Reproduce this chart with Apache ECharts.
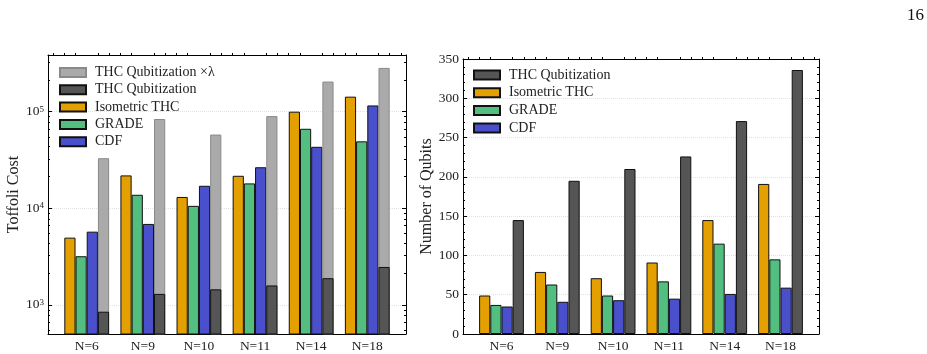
<!DOCTYPE html>
<html>
<head>
<meta charset="utf-8">
<script src="https://cdn.jsdelivr.net/npm/echarts@6/dist/echarts.min.js"></script>
<style>
  html, body { margin: 0; padding: 0; background: #fff; }
  #main { width: 927px; height: 354px; }
</style>
</head>
<body>
<div id="main"></div>
<script>
// systems
var categories = ['N=6', 'N=9', 'N=10', 'N=11', 'N=14', 'N=18']

// Toffoli cost (left, log)
var tofThcLambda = [33000, 84000, 58000, 90000, 205000, 284000]
var tofThc = [850, 1300, 1450, 1590, 1890, 2470]
var tofIso = [4970, 21900, 13100, 21700, 100000, 143000]
var tofGrade = [3190, 13800, 10600, 18100, 66500, 49300]
var tofCdf = [5730, 6890, 17100, 26600, 43300, 116000]

// number of qubits (right)
var qThc = [145, 195, 210, 226, 271, 336]
var qIso = [49, 79, 71, 91, 145, 191]
var qGrade = [37, 63, 49, 67, 115, 95]
var qCdf = [35, 41, 43, 45, 51, 59]

var FONT = 'Liberation Serif'
var C_ISO = '#e3a000'
var C_GRADE = '#52bf80'
var C_CDF = '#4a50cc'
var C_THC = '#555555'
var C_LAM = '#aaaaaa'
var BW = 11.2

function pts (arr) {
  return arr.map(function (v, i) { return [i, v] })
}

var myChart = echarts.init(document.getElementById('main'))

function xLabel (v) {
  var i = Math.round(v)
  if (Math.abs(v - i) > 1e-6 || i < 0 || i >= categories.length) return ''
  return categories[i]
}

function logLabel (v) {
  var e = Math.log10(v)
  var n = Math.round(e)
  if (Math.abs(e - n) > 1e-3) return ''
  return '{b|10}{s|' + n + '}'
}

var axisText = { color: '#222', fontFamily: FONT, fontSize: 13.5 }
var frame = { show: true, onZero: false, lineStyle: { color: '#000', width: 1 } }
var tickIn = { inside: true, length: 4, lineStyle: { color: '#000' } }

function xAxes (gi) {
  return [{
    type: 'value', gridIndex: gi, position: 'bottom', min: -0.69, max: 5.69,
    axisLine: frame, axisTick: { show: false }, splitLine: { show: false },
    axisLabel: Object.assign({ formatter: xLabel, margin: 5 }, axisText)
  }, {
    type: 'value', gridIndex: gi, position: 'top', min: -0.69, max: 5.69,
    axisLine: frame, axisLabel: { show: false }, splitLine: { show: false },
    axisTick: { show: false },
    minorTick: { show: true, splitNumber: 5, length: 2, lineStyle: { color: '#000' } }
  }]
}

function bar (name, data, color, xi, yi, extra) {
  return Object.assign({
    name: name, type: 'bar', xAxisIndex: xi, yAxisIndex: yi,
    data: data, barWidth: BW, barGap: '0%',
    itemStyle: { color: color, borderColor: '#111', borderWidth: 1 }
  }, extra || {})
}

// empty slots so the dark THC bar lands in the 4th slot on the top x axis
function slot (k) {
  return { name: '_slot' + k, type: 'bar', xAxisIndex: 1, yAxisIndex: 0, data: [], barWidth: BW, barGap: '0%' }
}

var legendText = { fontFamily: FONT, fontSize: 14, color: '#222', padding: [0, 0, 0, 4] }

myChart.setOption({
  animation: false,
  graphic: [{
    type: 'text', right: 3, top: 7,
    style: { text: '16', font: '17px "Liberation Serif"', fill: '#111' }
  }],
  grid: [
    { left: 48, top: 55, width: 358, height: 279 },
    { left: 463, top: 59, width: 356, height: 275 }
  ],
  legend: [{
    orient: 'vertical', left: 59, top: 65.5, padding: 0,
    itemWidth: 26, itemHeight: 9, itemGap: 3.3, icon: 'rect',
    textStyle: legendText,
    data: ['THC Qubitization ×λ', 'THC Qubitization', 'Isometric THC', 'GRADE', 'CDF']
  }, {
    orient: 'vertical', left: 473, top: 68, padding: 0,
    itemWidth: 26, itemHeight: 9, itemGap: 3.7, icon: 'rect',
    textStyle: legendText,
    data: ['THC Qubitization', 'Isometric THC', 'GRADE', 'CDF']
  }],
  xAxis: xAxes(0).concat(xAxes(1)),
  yAxis: [{
    type: 'log', gridIndex: 0, min: 500, max: 386000, logBase: 10,
    name: 'Toffoli Cost', nameLocation: 'middle', nameGap: 25,
    nameTextStyle: { fontFamily: FONT, fontSize: 16, color: '#222' },
    axisLine: frame, axisTick: tickIn,
    minorTick: { show: true, splitNumber: 8, length: 2, lineStyle: { color: '#000' } },
    splitLine: { show: true, lineStyle: { color: '#e2e2e2', type: 'dotted' } },
    axisLabel: {
      formatter: logLabel, margin: 4,
      rich: {
        b: { fontFamily: FONT, fontSize: 13.5, color: '#222' },
        s: { fontFamily: FONT, fontSize: 9, color: '#222', verticalAlign: 'top', lineHeight: 9 }
      }
    }
  }, {
    type: 'log', gridIndex: 0, min: 500, max: 386000, position: 'right',
    axisLine: frame, axisLabel: { show: false }, splitLine: { show: false },
    axisTick: tickIn,
    minorTick: { show: true, splitNumber: 8, length: 2, lineStyle: { color: '#000' } }
  }, {
    type: 'value', gridIndex: 1, min: 0, max: 350, interval: 50,
    name: 'Number of Qubits', nameLocation: 'middle', nameGap: 28,
    nameTextStyle: { fontFamily: FONT, fontSize: 16, color: '#222' },
    axisLine: frame, axisTick: tickIn,
    minorTick: { show: true, splitNumber: 5, length: 2, lineStyle: { color: '#000' } },
    splitLine: { show: true, lineStyle: { color: '#e2e2e2', type: 'dotted' } },
    axisLabel: Object.assign({ margin: 4 }, axisText)
  }, {
    type: 'value', gridIndex: 1, min: 0, max: 350, interval: 50, position: 'right',
    axisLine: frame, axisLabel: { show: false }, splitLine: { show: false },
    axisTick: tickIn,
    minorTick: { show: true, splitNumber: 5, length: 2, lineStyle: { color: '#000' } }
  }],
  series: [
    bar('Isometric THC', pts(tofIso), C_ISO, 0, 0),
    bar('GRADE', pts(tofGrade), C_GRADE, 0, 0),
    bar('CDF', pts(tofCdf), C_CDF, 0, 0),
    bar('THC Qubitization ×λ', pts(tofThcLambda), C_LAM, 0, 0, {
      itemStyle: { color: C_LAM, borderColor: '#8a8a8a', borderWidth: 1 }
    }),
    slot(1), slot(2), slot(3),
    bar('THC Qubitization', pts(tofThc), C_THC, 1, 0),
    bar('Isometric THC', pts(qIso), C_ISO, 2, 2),
    bar('GRADE', pts(qGrade), C_GRADE, 2, 2),
    bar('CDF', pts(qCdf), C_CDF, 2, 2),
    bar('THC Qubitization', pts(qThc), C_THC, 2, 2)
  ]
})

window.addEventListener('resize', function () {
  myChart.resize()
})
</script>
</body>
</html>
